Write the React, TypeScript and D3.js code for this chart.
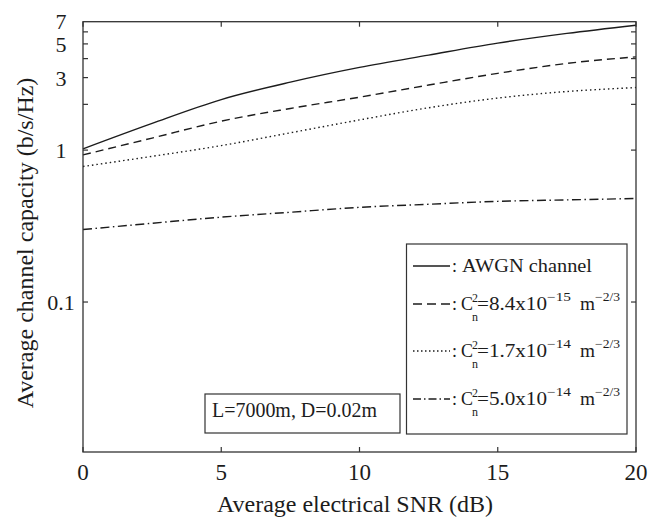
import React from "react";
import * as d3 from "d3";

const snr = [0, 2.5, 5, 7.5, 10, 12.5, 15, 17.5, 20];
const awgn = [1.02, 1.5, 2.15, 2.8, 3.5, 4.22, 5.06, 5.86, 6.64];
const turb84e15 = [0.93, 1.2, 1.55, 1.88, 2.23, 2.68, 3.2, 3.72, 4.11];
const turb17e14 = [0.78, 0.91, 1.07, 1.3, 1.58, 1.9, 2.2, 2.43, 2.58];
const turb50e14 = [0.3, 0.33, 0.362, 0.39, 0.42, 0.44, 0.46, 0.47, 0.48];

const xTicks = [0, 5, 10, 15, 20];
const yLabelTicks = [7, 5, 3, 1, 0.1];
const yMinorTicks = [0.1, 1, 2, 3, 4, 5, 6];

const seriesNames = ["AWGN channel", "8.4", "1.7", "5.0"];
const exponents = ["", "\u221215", "\u221214", "\u221214"];
const dashes = ["none", "8,5", "1.5,3", "9,3.5,1.5,3.5"];
const legendDashes = ["none", "9,5", "1.5,2.5", "8,3,1.5,3"];

const W = 661, H = 523;
const L = 83, R = 636, T = 21.7, B = 452;
const FONT = "Liberation Serif, Times New Roman, DejaVu Serif, serif";
const INK = "#1c1c1c";

export default function App() {
  const x = d3.scaleLinear().domain([0, 20]).range([L, R]);
  const y = d3.scaleLog().domain([0.0103, 7]).range([B, T]);
  const line = d3
    .line<number>()
    .x((_, i) => x(snr[i]))
    .y((v) => y(v))
    .curve(d3.curveMonotoneX);
  const all = [awgn, turb84e15, turb17e14, turb50e14];
  const legendBase = [272, 310, 357, 405];

  return (
    <svg
      width={W}
      height={H}
      style={{ position: "absolute", left: 0, top: 0, background: "#fff", fontFamily: FONT }}
    >
      <rect x={0} y={0} width={W} height={H} fill="#fff" />
      {all.map((s, i) => (
        <path
          key={i}
          d={line(s) || ""}
          fill="none"
          stroke={INK}
          strokeWidth={1.4}
          strokeDasharray={dashes[i]}
        />
      ))}
      <rect x={L} y={T} width={R - L} height={B - T} fill="none" stroke="#333" strokeWidth={1.3} />
      {xTicks.map((t) => (
        <g key={t}>
          <line x1={x(t)} x2={x(t)} y1={B} y2={B - 5} stroke="#333" strokeWidth={1.2} />
          <line x1={x(t)} x2={x(t)} y1={T} y2={T + 5} stroke="#333" strokeWidth={1.2} />
          <text x={x(t)} y={480} fontSize={23} textAnchor="middle" fill={INK}>
            {t}
          </text>
        </g>
      ))}
      {yMinorTicks.map((t) => (
        <g key={t}>
          <line x1={L} x2={L + 5} y1={y(t)} y2={y(t)} stroke="#333" strokeWidth={1.2} />
          <line x1={R} x2={R - 5} y1={y(t)} y2={y(t)} stroke="#333" strokeWidth={1.2} />
        </g>
      ))}
      {yLabelTicks.map((t) => (
        <text key={t} x={61} y={y(t) + (t === 7 ? 7 : 8)} fontSize={22} textAnchor="middle" fill={INK}>
          {t}
        </text>
      ))}
      <text x={355} y={512} fontSize={24} textAnchor="middle" fill={INK}>
        Average electrical SNR (dB)
      </text>
      <text
        transform={`translate(33,243) rotate(-90)`}
        fontSize={24}
        textAnchor="middle"
        fill={INK}
      >
        Average channel capacity (b/s/Hz)
      </text>
      <rect x={205} y={394} width={195} height={39} fill="#fff" stroke="#333" strokeWidth={1.2} />
      <text x={212} y={417} fontSize={20} textLength={165} lengthAdjust="spacingAndGlyphs" fill={INK}>
        L=7000m, D=0.02m
      </text>
      <rect x={406.5} y={244} width={220.5} height={190} fill="#fff" stroke="#333" strokeWidth={1.2} />
      {seriesNames.map((nm, i) => {
        const b = legendBase[i];
        return (
          <g key={i}>
            <line
              x1={413}
              x2={450}
              y1={b - 6}
              y2={b - 6}
              stroke={INK}
              strokeWidth={1.3}
              strokeDasharray={legendDashes[i]}
            />
            <text x={452} y={b} fontSize={18} fill={INK}>:</text>
            {i === 0 ? (
              <text x={462} y={b} fontSize={18} textLength={130} lengthAdjust="spacingAndGlyphs" fill={INK}>
                {nm}
              </text>
            ) : (
              <g fill={INK}>
                <text x={461} y={b} fontSize={18} textLength={12} lengthAdjust="spacingAndGlyphs">C</text>
                <text x={472} y={b - 8} fontSize={12}>2</text>
                <text x={472} y={b + 11} fontSize={12}>n</text>
                <text x={477} y={b} fontSize={18} textLength={70} lengthAdjust="spacingAndGlyphs">
                  {"=" + nm + "x10"}
                </text>
                <text x={547} y={b - 9} fontSize={12} textLength={24} lengthAdjust="spacingAndGlyphs">
                  {exponents[i]}
                </text>
                <text x={580} y={b} fontSize={18} textLength={15} lengthAdjust="spacingAndGlyphs">m</text>
                <text x={595} y={b - 9} fontSize={12} textLength={25} lengthAdjust="spacingAndGlyphs">
                  {"\u22122/3"}
                </text>
              </g>
            )}
          </g>
        );
      })}
    </svg>
  );
}
